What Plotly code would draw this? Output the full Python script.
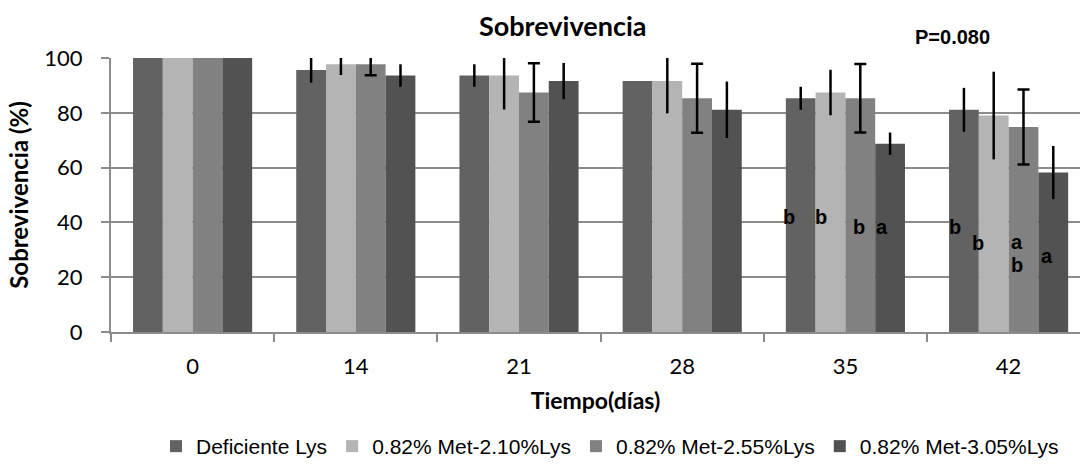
import plotly.graph_objects as go

days = ["0", "14", "21", "28", "35", "42"]
series_names = ["Deficiente Lys", "0.82% Met-2.10%Lys", "0.82% Met-2.55%Lys", "0.82% Met-3.05%Lys"]
deficiente = [100, 95.6, 93.6, 91.6, 85.3, 81.1]
met_210 = [100, 97.7, 93.6, 91.6, 87.4, 79.0]
met_255 = [100, 97.7, 87.4, 85.3, 85.3, 74.8]
met_305 = [100, 93.6, 91.6, 81.1, 68.7, 58.2]
# "NaN" = no error bar drawn for that point
err_deficiente = ["NaN", 4.6, 4.1, "NaN", 4.2, 8.0]
err_210 = ["NaN", 3.9, 12.4, 11.8, 8.3, 16.0]
err_255 = ["NaN", 4.0, 10.7, 12.6, 12.5, 13.7]
err_305 = ["NaN", 4.1, 6.6, 10.3, 4.1, 9.7]
y_ticks = [0, 20, 40, 60, 80, 100]

# significance letters: (day index, horizontal offset in category units, y value, letter)
letters = [
    (4, -0.346, 41.9, "b"), (4, -0.150, 42.1, "b"), (4, 0.083, 38.5, "b"), (4, 0.224, 38.4, "a"),
    (5, -0.328, 38.2, "b"), (5, -0.187, 32.5, "b"), (5, 0.052, 32.8, "a"), (5, 0.052, 24.6, "b"),
    (5, 0.236, 27.9, "a"),
]

values = [deficiente, met_210, met_255, met_305]
errors = [err_deficiente, err_210, err_255, err_305]
colors = ["#626262", "#b4b4b4", "#818181", "#525252"]
cap_widths = [0, 0, 6, 0]

fig = go.Figure()
for name, v, e, c, w in zip(series_names, values, errors, colors, cap_widths):
    fig.add_trace(go.Bar(
        x=days, y=v, name=name, marker=dict(color=c, line=dict(width=0)),
        error_y=dict(type="data", array=e, visible=True, color="black", thickness=2.5, width=w),
    ))

annotations = []
for d, off, yv, t in letters:
    annotations.append(dict(x=d + off, y=yv, xref="x", yref="y", text="<b>%s</b>" % t,
                            showarrow=False, font=dict(family="Liberation Sans, Arial", size=20, color="black")))
annotations.append(dict(x=(563 - 111) / 969, y=1 + (58 - 25) / 281, xref="paper", yref="paper",
                        text="<b>Sobrevivencia</b>", showarrow=False, yanchor="middle",
                        font=dict(family="Lato", size=27, color="black")))
annotations.append(dict(x=(992 - 111) / 969, y=1 + (58 - 36) / 281, xref="paper", yref="paper",
                        text="<b>P=0.080</b>", showarrow=False, yanchor="middle",
                        font=dict(family="Liberation Sans, Arial", size=20, color="black")))

fig.update_layout(
    width=1080, height=467,
    margin=dict(l=111, r=0, t=58, b=128),
    paper_bgcolor="white", plot_bgcolor="white",
    barmode="group", bargap=0.27, bargroupgap=0,
    showlegend=True,
    legend=dict(orientation="h", x=(610 - 111) / 969, xanchor="center", y=(339 - 457) / 281, yanchor="middle",
                font=dict(family="Liberation Sans, Arial", size=21, color="black"), itemwidth=30),
    annotations=annotations,
    xaxis=dict(
        type="category", range=[-0.5, 5.4375], tickson="boundaries",
        showline=True, linecolor="#8c8c8c", linewidth=2,
        ticks="outside", ticklen=8, tickcolor="#8c8c8c", tickwidth=2,
        ticklabelstandoff=14,
        tickfont=dict(family="Lato", size=22, color="black"),
        showgrid=False,
        title=dict(text="<b>Tiempo(días)</b>", font=dict(family="Lato", size=23, color="black"), standoff=14),
    ),
    yaxis=dict(
        range=[0, 100], tickvals=y_ticks,
        showline=True, linecolor="#8c8c8c", linewidth=2,
        ticks="outside", ticklen=8, tickcolor="#8c8c8c", tickwidth=2,
        ticklabelstandoff=14,
        tickfont=dict(family="Lato", size=22, color="black"),
        showgrid=True, gridcolor="#8c8c8c", gridwidth=2, zeroline=False,
        title=dict(text="<b>Sobrevivencia (%)</b>", font=dict(family="Lato", size=24, color="black"), standoff=9),
    ),
)

fig.write_html("out.html")
